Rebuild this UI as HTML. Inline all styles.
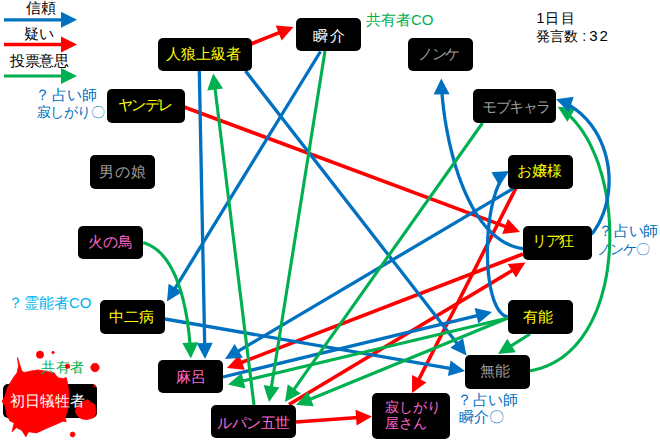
<!DOCTYPE html><html><head><meta charset="utf-8"><style>
html,body{margin:0;padding:0;background:#fff;width:660px;height:441px;overflow:hidden;position:relative;font-family:"Liberation Sans",sans-serif;}
svg{position:absolute;left:0;top:0;}
.b{position:absolute;box-sizing:border-box;background:#000;border-radius:5px;display:flex;align-items:center;justify-content:center;font-size:14.5px;white-space:nowrap;}
.l{position:absolute;font-size:14px;line-height:normal;white-space:nowrap;}
</style></head><body>
<svg width="660" height="441" viewBox="0 0 660 441"><line x1="4.0" y1="19.8" x2="63.0" y2="19.8" stroke="#0070C0" stroke-width="3.3"/><polygon points="77.0,19.8 61.0,27.8 61.0,11.8" fill="#0070C0"/>
<line x1="4.0" y1="44.5" x2="63.0" y2="44.5" stroke="#FF0000" stroke-width="3.6"/><polygon points="77.0,44.5 61.0,52.5 61.0,36.5" fill="#FF0000"/>
<line x1="4.0" y1="76.0" x2="63.0" y2="76.0" stroke="#00B050" stroke-width="3.1"/><polygon points="77.0,76.0 61.0,84.0 61.0,68.0" fill="#00B050"/>
<line x1="251.0" y1="44.0" x2="280.5" y2="32.2" stroke="#FF0000" stroke-width="3.6"/><polygon points="293.5,27.0 281.6,40.4 275.7,25.5" fill="#FF0000"/>
<line x1="184.0" y1="107.0" x2="506.9" y2="227.1" stroke="#FF0000" stroke-width="3.6"/><polygon points="520.0,232.0 502.2,233.9 507.8,218.9" fill="#FF0000"/>
<line x1="296.0" y1="422.0" x2="358.0" y2="417.5" stroke="#FF0000" stroke-width="3.6"/><polygon points="372.0,416.5 356.6,425.6 355.5,409.7" fill="#FF0000"/>
<line x1="516.0" y1="188.0" x2="418.3" y2="380.5" stroke="#FF0000" stroke-width="3.6"/><polygon points="412.0,393.0 412.1,375.1 426.4,382.4" fill="#FF0000"/>
<line x1="523.0" y1="254.0" x2="240.1" y2="363.0" stroke="#FF0000" stroke-width="3.6"/><polygon points="227.0,368.0 239.1,354.8 244.8,369.7" fill="#FF0000"/>
<line x1="289.0" y1="404.5" x2="513.5" y2="269.7" stroke="#FF0000" stroke-width="3.6"/><polygon points="525.5,262.5 515.9,277.6 507.7,263.9" fill="#FF0000"/>
<line x1="199.3" y1="71.0" x2="204.7" y2="345.0" stroke="#0070C0" stroke-width="3.3"/><polygon points="205.0,359.0 196.7,343.2 212.7,342.8" fill="#0070C0"/>
<line x1="245.5" y1="71.0" x2="457.9" y2="344.4" stroke="#0070C0" stroke-width="3.3"/><polygon points="466.5,355.5 450.4,347.8 463.0,338.0" fill="#0070C0"/>
<line x1="320.5" y1="51.5" x2="174.3" y2="289.6" stroke="#0070C0" stroke-width="3.3"/><polygon points="167.0,301.5 168.6,283.7 182.2,292.1" fill="#0070C0"/>
<line x1="165.0" y1="319.0" x2="451.2" y2="368.6" stroke="#0070C0" stroke-width="3.3"/><polygon points="465.0,371.0 447.9,376.1 450.6,360.4" fill="#0070C0"/>
<line x1="514.0" y1="188.0" x2="237.0" y2="351.9" stroke="#0070C0" stroke-width="3.3"/><polygon points="225.0,359.0 234.7,344.0 242.8,357.7" fill="#0070C0"/>
<line x1="223.0" y1="377.0" x2="478.4" y2="315.3" stroke="#0070C0" stroke-width="3.3"/><polygon points="492.0,312.0 478.3,323.5 474.6,308.0" fill="#0070C0"/>
<polyline fill="none" stroke="#0070C0" stroke-width="3.3" points="523.5,248.7 522.7,248.6 521.9,248.5 521.0,248.3 520.2,248.2 519.4,248.0 518.6,247.8 517.8,247.7 517.0,247.5 516.3,247.2 515.5,247.0 514.7,246.8 513.9,246.5 513.2,246.3 512.4,246.0 511.6,245.7 510.9,245.4 510.2,245.1 509.4,244.8 508.7,244.5 507.9,244.1 507.2,243.8 506.5,243.4 505.8,243.0 505.1,242.7 504.3,242.3 503.6,241.8 502.9,241.4 502.2,241.0 501.6,240.6 500.9,240.1 500.2,239.7 499.5,239.2 498.8,238.7 498.2,238.2 497.5,237.7 496.9,237.2 496.2,236.7 495.6,236.2 494.9,235.6 494.3,235.1 493.6,234.5 493.0,234.0 492.4,233.4 491.8,232.8 491.1,232.2 490.5,231.6 489.9,231.0 489.3,230.4 488.7,229.8 488.1,229.2 487.5,228.5 486.9,227.9 486.4,227.2 485.8,226.5 485.2,225.9 484.6,225.2 484.1,224.5 483.5,223.8 482.9,223.1 482.4,222.4 481.8,221.7 481.3,220.9 480.8,220.2 480.2,219.5 479.7,218.7 479.2,218.0 478.6,217.2 478.1,216.4 477.6,215.6 477.1,214.9 476.6,214.1 476.1,213.3 475.6,212.5 475.1,211.7 474.6,210.9 474.1,210.1 473.6,209.2 473.2,208.4 472.7,207.6 472.2,206.7 471.8,205.9 471.3,205.0 470.8,204.2 470.4,203.3 469.9,202.4 469.5,201.6 469.1,200.7 468.6,199.8 468.2,198.9 467.8,198.0 467.3,197.1 466.9,196.2 466.5,195.3 466.1,194.4 465.7,193.5 465.3,192.6 464.9,191.7 464.5,190.7 464.1,189.8 463.7,188.9 463.3,188.0 462.9,187.0 462.5,186.1 462.2,185.1 461.8,184.2 461.4,183.2 461.1,182.3 460.7,181.3 460.3,180.4 460.0,179.4 459.6,178.4 459.3,177.5 458.9,176.5 458.6,175.5 458.3,174.5 457.9,173.6 457.6,172.6 457.3,171.6 457.0,170.6 456.7,169.6 456.3,168.6 456.0,167.7 455.7,166.7 455.4,165.7 455.1,164.7 454.8,163.7 454.5,162.7 454.3,161.7 454.0,160.7 453.7,159.7 453.4,158.7 453.1,157.7 452.9,156.7 452.6,155.7 452.3,154.7 452.1,153.7 451.8,152.7 451.6,151.7 451.3,150.7 451.1,149.7 450.8,148.7 450.6,147.7 450.4,146.7 450.1,145.7 449.9,144.7 449.7,143.7 449.4,142.7 449.2,141.7 449.0,140.7 448.8,139.7 448.6,138.8 448.4,137.8 448.2,136.8 448.0,135.8 447.8,134.8 447.6,133.8 447.4,132.8 447.2,131.9 447.0,130.9 446.8,129.9 446.7,128.9 446.5,127.9 446.3,127.0 446.1,126.0 446.0,125.0 445.8,124.1 445.7,123.1 445.5,122.2 445.3,121.2 445.2,120.3 445.0,119.3 444.9,118.4 444.8,117.4 444.6,116.5 444.5,115.5 444.4,114.6 444.2,113.7 444.1,112.8 444.0,111.8 443.9,110.9 443.7,110.0 443.6,109.1 443.5,108.2 443.4,107.3 443.3,106.4 443.2,105.5 443.1,104.6 443.0,103.7 442.9,102.9 442.8,102.0 442.7,101.1 442.6,100.3 442.5,99.4 442.5,98.6 442.4,97.7 442.3,96.9 442.2,96.0 442.2,95.2 442.1,94.4 442.0,93.6"/><polygon points="441.3,78.4 449.6,94.3 433.6,94.5" fill="#0070C0"/>
<polyline fill="none" stroke="#0070C0" stroke-width="3.3" points="508.0,317.0 507.6,316.9 507.3,316.8 506.9,316.7 506.5,316.6 506.2,316.5 505.8,316.3 505.4,316.2 505.1,316.0 504.7,315.8 504.4,315.6 504.1,315.4 503.7,315.2 503.4,315.0 503.1,314.8 502.7,314.5 502.4,314.2 502.1,314.0 501.8,313.7 501.5,313.4 501.2,313.1 500.9,312.7 500.6,312.4 500.3,312.1 500.0,311.7 499.7,311.4 499.4,311.0 499.1,310.6 498.8,310.2 498.5,309.8 498.3,309.4 498.0,308.9 497.7,308.5 497.5,308.1 497.2,307.6 497.0,307.1 496.7,306.7 496.5,306.2 496.2,305.7 496.0,305.2 495.7,304.7 495.5,304.1 495.3,303.6 495.0,303.1 494.8,302.5 494.6,302.0 494.4,301.4 494.2,300.8 493.9,300.3 493.7,299.7 493.5,299.1 493.3,298.5 493.1,297.8 492.9,297.2 492.8,296.6 492.6,296.0 492.4,295.3 492.2,294.7 492.0,294.0 491.9,293.4 491.7,292.7 491.5,292.0 491.4,291.3 491.2,290.6 491.0,289.9 490.9,289.2 490.7,288.5 490.6,287.8 490.4,287.1 490.3,286.4 490.2,285.6 490.0,284.9 489.9,284.1 489.8,283.4 489.7,282.6 489.5,281.9 489.4,281.1 489.3,280.3 489.2,279.6 489.1,278.8 489.0,278.0 488.9,277.2 488.8,276.4 488.7,275.6 488.6,274.8 488.5,274.0 488.4,273.2 488.4,272.4 488.3,271.6 488.2,270.7 488.1,269.9 488.1,269.1 488.0,268.3 488.0,267.4 487.9,266.6 487.8,265.7 487.8,264.9 487.7,264.1 487.7,263.2 487.7,262.4 487.6,261.5 487.6,260.6 487.6,259.8 487.5,258.9 487.5,258.1 487.5,257.2 487.5,256.3 487.4,255.5 487.4,254.6 487.4,253.7 487.4,252.9 487.4,252.0 487.4,251.1 487.4,250.2 487.4,249.4 487.4,248.5 487.5,247.6 487.5,246.7 487.5,245.8 487.5,245.0 487.5,244.1 487.6,243.2 487.6,242.3 487.6,241.4 487.7,240.6 487.7,239.7 487.8,238.8 487.8,237.9 487.9,237.1 487.9,236.2 488.0,235.3 488.0,234.4 488.1,233.6 488.2,232.7 488.2,231.8 488.3,230.9 488.4,230.1 488.5,229.2 488.6,228.3 488.6,227.5 488.7,226.6 488.8,225.8 488.9,224.9 489.0,224.1 489.1,223.2 489.2,222.4 489.3,221.5 489.4,220.7 489.5,219.8 489.7,219.0 489.8,218.2 489.9,217.3 490.0,216.5 490.2,215.7 490.3,214.9 490.4,214.0 490.6,213.2 490.7,212.4 490.8,211.6 491.0,210.8 491.1,210.0 491.3,209.2 491.5,208.4 491.6,207.6 491.8,206.9 491.9,206.1 492.1,205.3 492.3,204.6 492.5,203.8 492.6,203.0 492.8,202.3 493.0,201.6 493.2,200.8 493.4,200.1 493.6,199.4 493.7,198.6 493.9,197.9 494.1,197.2 494.3,196.5 494.6,195.8 494.8,195.1 495.0,194.4 495.2,193.8 495.4,193.1 495.6,192.4 495.9,191.8 496.1,191.1 496.3,190.5 496.5,189.9 496.8,189.2 497.0,188.6 497.3,188.0 497.5,187.4 497.7,186.8 498.0,186.2 498.2,185.6 498.5,185.1 498.8,184.5 499.0,183.9 499.3,183.4 499.6,182.9"/><polygon points="509.2,171.1 499.5,186.1 491.4,172.3" fill="#0070C0"/>
<line x1="325.0" y1="51.0" x2="271.2" y2="388.2" stroke="#00B050" stroke-width="3.1"/><polygon points="269.0,402.0 263.6,384.9 279.4,387.5" fill="#00B050"/>
<line x1="254.0" y1="405.0" x2="214.9" y2="87.5" stroke="#00B050" stroke-width="3.1"/><polygon points="213.2,73.6 223.1,88.5 207.2,90.5" fill="#00B050"/>
<polyline fill="none" stroke="#00B050" stroke-width="3.1" points="143.2,242.7 143.7,242.8 144.2,243.0 144.7,243.1 145.2,243.3 145.7,243.5 146.2,243.6 146.6,243.8 147.1,244.0 147.6,244.2 148.1,244.4 148.5,244.6 149.0,244.8 149.4,245.1 149.9,245.3 150.4,245.5 150.8,245.8 151.3,246.0 151.7,246.3 152.1,246.5 152.6,246.8 153.0,247.0 153.4,247.3 153.9,247.6 154.3,247.9 154.7,248.2 155.1,248.5 155.5,248.8 156.0,249.1 156.4,249.4 156.8,249.7 157.2,250.1 157.6,250.4 158.0,250.7 158.4,251.1 158.8,251.4 159.1,251.8 159.5,252.1 159.9,252.5 160.3,252.9 160.7,253.2 161.0,253.6 161.4,254.0 161.8,254.4 162.1,254.8 162.5,255.2 162.8,255.6 163.2,256.0 163.5,256.4 163.9,256.8 164.2,257.3 164.6,257.7 164.9,258.1 165.3,258.5 165.6,259.0 165.9,259.4 166.2,259.9 166.6,260.3 166.9,260.8 167.2,261.2 167.5,261.7 167.8,262.2 168.2,262.6 168.5,263.1 168.8,263.6 169.1,264.1 169.4,264.6 169.7,265.1 170.0,265.6 170.3,266.1 170.5,266.6 170.8,267.1 171.1,267.6 171.4,268.1 171.7,268.6 172.0,269.1 172.2,269.6 172.5,270.2 172.8,270.7 173.0,271.2 173.3,271.8 173.6,272.3 173.8,272.8 174.1,273.4 174.3,273.9 174.6,274.5 174.8,275.0 175.1,275.6 175.3,276.2 175.6,276.7 175.8,277.3 176.0,277.8 176.3,278.4 176.5,279.0 176.7,279.5 176.9,280.1 177.2,280.7 177.4,281.3 177.6,281.9 177.8,282.4 178.0,283.0 178.3,283.6 178.5,284.2 178.7,284.8 178.9,285.4 179.1,286.0 179.3,286.6 179.5,287.2 179.7,287.8 179.9,288.4 180.1,289.0 180.3,289.6 180.5,290.2 180.6,290.8 180.8,291.4 181.0,292.0 181.2,292.6 181.4,293.2 181.5,293.9 181.7,294.5 181.9,295.1 182.1,295.7 182.2,296.3 182.4,296.9 182.5,297.6 182.7,298.2 182.9,298.8 183.0,299.4 183.2,300.1 183.3,300.7 183.5,301.3 183.6,301.9 183.8,302.5 183.9,303.2 184.1,303.8 184.2,304.4 184.4,305.0 184.5,305.7 184.6,306.3 184.8,306.9 184.9,307.6 185.0,308.2 185.2,308.8 185.3,309.4 185.4,310.1 185.5,310.7 185.6,311.3 185.8,311.9 185.9,312.6 186.0,313.2 186.1,313.8 186.2,314.4 186.3,315.1 186.5,315.7 186.6,316.3 186.7,316.9 186.8,317.6 186.9,318.2 187.0,318.8 187.1,319.4 187.2,320.0 187.3,320.6 187.4,321.3 187.5,321.9 187.5,322.5 187.6,323.1 187.7,323.7 187.8,324.3 187.9,324.9 188.0,325.5 188.1,326.1 188.1,326.7 188.2,327.3 188.3,327.9 188.4,328.5 188.5,329.1 188.5,329.7 188.6,330.3 188.7,330.9 188.7,331.5 188.8,332.1 188.9,332.7 189.0,333.3 189.0,333.9 189.1,334.4 189.1,335.0 189.2,335.6 189.3,336.2 189.3,336.7 189.4,337.3 189.4,337.9 189.5,338.4 189.5,339.0 189.6,339.6 189.6,340.1 189.7,340.7 189.7,341.2 189.8,341.8 189.8,342.3 189.9,342.9 189.9,343.4"/><polygon points="190.8,358.6 182.3,342.9 198.3,342.3" fill="#00B050"/>
<line x1="482.5" y1="123.0" x2="293.1" y2="390.6" stroke="#00B050" stroke-width="3.1"/><polygon points="285.0,402.0 287.7,384.3 300.8,393.6" fill="#00B050"/>
<line x1="508.0" y1="318.0" x2="241.6" y2="381.3" stroke="#00B050" stroke-width="3.1"/><polygon points="228.0,384.5 241.7,373.0 245.4,388.6" fill="#00B050"/>
<line x1="508.0" y1="318.0" x2="309.0" y2="399.7" stroke="#00B050" stroke-width="3.1"/><polygon points="296.0,405.0 307.8,391.5 313.8,406.3" fill="#00B050"/>
<line x1="530.0" y1="334.0" x2="509.9" y2="346.6" stroke="#00B050" stroke-width="3.1"/><polygon points="498.0,354.0 507.3,338.7 515.8,352.3" fill="#00B050"/>
<polyline fill="none" stroke="#00B050" stroke-width="3.1" points="529.5,370.8 531.0,370.6 532.4,370.3 533.8,370.0 535.2,369.7 536.6,369.3 538.0,369.0 539.4,368.6 540.7,368.2 542.1,367.7 543.4,367.3 544.7,366.8 546.0,366.3 547.3,365.8 548.6,365.2 549.8,364.6 551.1,364.0 552.3,363.4 553.5,362.8 554.7,362.1 555.9,361.5 557.1,360.8 558.3,360.0 559.4,359.3 560.5,358.6 561.7,357.8 562.8,357.0 563.9,356.2 564.9,355.3 566.0,354.5 567.1,353.6 568.1,352.7 569.1,351.8 570.1,350.9 571.1,349.9 572.1,349.0 573.1,348.0 574.1,347.0 575.0,346.0 575.9,344.9 576.8,343.9 577.8,342.8 578.6,341.7 579.5,340.6 580.4,339.5 581.2,338.4 582.1,337.3 582.9,336.1 583.7,334.9 584.5,333.7 585.3,332.5 586.1,331.3 586.9,330.1 587.6,328.8 588.3,327.6 589.1,326.3 589.8,325.0 590.5,323.7 591.2,322.4 591.8,321.1 592.5,319.8 593.1,318.4 593.8,317.1 594.4,315.7 595.0,314.3 595.6,313.0 596.2,311.6 596.8,310.1 597.3,308.7 597.9,307.3 598.4,305.8 598.9,304.4 599.4,302.9 599.9,301.5 600.4,300.0 600.9,298.5 601.3,297.0 601.8,295.5 602.2,294.0 602.6,292.5 603.0,290.9 603.4,289.4 603.8,287.9 604.2,286.3 604.6,284.8 604.9,283.2 605.2,281.6 605.6,280.0 605.9,278.5 606.2,276.9 606.5,275.3 606.7,273.7 607.0,272.1 607.3,270.5 607.5,268.9 607.7,267.2 607.9,265.6 608.1,264.0 608.3,262.4 608.5,260.7 608.7,259.1 608.8,257.5 609.0,255.8 609.1,254.2 609.2,252.5 609.4,250.9 609.5,249.2 609.5,247.6 609.6,245.9 609.7,244.3 609.7,242.6 609.8,240.9 609.8,239.3 609.8,237.6 609.8,236.0 609.8,234.3 609.8,232.6 609.8,231.0 609.7,229.3 609.7,227.7 609.6,226.0 609.5,224.3 609.5,222.7 609.4,221.0 609.2,219.4 609.1,217.7 609.0,216.1 608.9,214.4 608.7,212.8 608.5,211.2 608.4,209.5 608.2,207.9 608.0,206.3 607.8,204.6 607.6,203.0 607.3,201.4 607.1,199.8 606.8,198.2 606.6,196.6 606.3,195.0 606.0,193.4 605.7,191.8 605.4,190.2 605.1,188.7 604.8,187.1 604.4,185.5 604.1,184.0 603.7,182.4 603.3,180.9 603.0,179.4 602.6,177.8 602.2,176.3 601.8,174.8 601.3,173.3 600.9,171.8 600.4,170.3 600.0,168.9 599.5,167.4 599.1,165.9 598.6,164.5 598.1,163.1 597.6,161.6 597.0,160.2 596.5,158.8 596.0,157.4 595.4,156.0 594.9,154.7 594.3,153.3 593.7,151.9 593.1,150.6 592.5,149.3 591.9,148.0 591.3,146.7 590.7,145.4 590.0,144.1 589.4,142.8 588.7,141.6 588.0,140.3 587.4,139.1 586.7,137.9 586.0,136.7 585.3,135.5 584.5,134.4 583.8,133.2 583.1,132.1 582.3,131.0 581.6,129.9 580.8,128.8 580.0,127.7 579.2,126.6 578.4,125.6 577.6,124.6 576.8,123.6 576.0,122.6 575.1,121.6 574.3,120.6 573.4,119.7 572.6,118.8 571.7,117.9 570.8,117.0 569.9,116.1"/><polygon points="557.7,106.8 575.5,108.0 567.4,121.8" fill="#00B050"/>
<polyline fill="none" stroke="#0070C0" stroke-width="3.3" points="591.6,234.3 592.0,233.7 592.5,233.2 592.9,232.6 593.3,232.0 593.8,231.4 594.2,230.8 594.6,230.2 595.0,229.6 595.4,229.0 595.8,228.4 596.2,227.8 596.6,227.2 596.9,226.6 597.3,225.9 597.7,225.3 598.0,224.7 598.4,224.1 598.7,223.4 599.1,222.8 599.4,222.2 599.7,221.5 600.0,220.9 600.4,220.2 600.7,219.6 601.0,218.9 601.3,218.3 601.6,217.6 601.9,216.9 602.1,216.3 602.4,215.6 602.7,214.9 603.0,214.2 603.2,213.6 603.5,212.9 603.7,212.2 604.0,211.5 604.2,210.8 604.4,210.1 604.7,209.5 604.9,208.8 605.1,208.1 605.3,207.4 605.5,206.7 605.7,206.0 605.9,205.3 606.1,204.6 606.3,203.9 606.4,203.2 606.6,202.4 606.8,201.7 606.9,201.0 607.1,200.3 607.2,199.6 607.4,198.9 607.5,198.1 607.6,197.4 607.8,196.7 607.9,196.0 608.0,195.3 608.1,194.5 608.2,193.8 608.3,193.1 608.4,192.4 608.5,191.6 608.5,190.9 608.6,190.2 608.7,189.4 608.8,188.7 608.8,188.0 608.9,187.2 608.9,186.5 608.9,185.8 609.0,185.0 609.0,184.3 609.0,183.6 609.1,182.8 609.1,182.1 609.1,181.3 609.1,180.6 609.1,179.9 609.1,179.1 609.0,178.4 609.0,177.7 609.0,176.9 609.0,176.2 608.9,175.4 608.9,174.7 608.8,174.0 608.8,173.2 608.7,172.5 608.7,171.8 608.6,171.0 608.5,170.3 608.4,169.6 608.4,168.8 608.3,168.1 608.2,167.4 608.1,166.6 608.0,165.9 607.8,165.2 607.7,164.4 607.6,163.7 607.5,163.0 607.3,162.3 607.2,161.5 607.0,160.8 606.9,160.1 606.7,159.4 606.6,158.7 606.4,157.9 606.2,157.2 606.1,156.5 605.9,155.8 605.7,155.1 605.5,154.4 605.3,153.7 605.1,153.0 604.9,152.3 604.7,151.6 604.4,150.9 604.2,150.2 604.0,149.5 603.7,148.8 603.5,148.1 603.2,147.4 603.0,146.7 602.7,146.0 602.5,145.3 602.2,144.7 601.9,144.0 601.6,143.3 601.4,142.6 601.1,142.0 600.8,141.3 600.5,140.6 600.2,140.0 599.8,139.3 599.5,138.6 599.2,138.0 598.9,137.3 598.5,136.7 598.2,136.0 597.9,135.4 597.5,134.8 597.2,134.1 596.8,133.5 596.4,132.9 596.1,132.2 595.7,131.6 595.3,131.0 594.9,130.4 594.5,129.8 594.1,129.2 593.7,128.6 593.3,128.0 592.9,127.4 592.5,126.8 592.1,126.2 591.6,125.6 591.2,125.0 590.8,124.4 590.3,123.9 589.9,123.3 589.4,122.7 589.0,122.2 588.5,121.6 588.0,121.0 587.6,120.5 587.1,120.0 586.6,119.4 586.1,118.9 585.6,118.3 585.1,117.8 584.6,117.3 584.1,116.8 583.6,116.3 583.1,115.8 582.5,115.3 582.0,114.8 581.5,114.3 580.9,113.8 580.4,113.3 579.8,112.8 579.3,112.4 578.7,111.9 578.1,111.4 577.6,111.0 577.0,110.5 576.4,110.1 575.8,109.6 575.2,109.2 574.6,108.8 574.0,108.4 573.4,107.9 572.8,107.5 572.2,107.1 571.6,106.7 570.9,106.3 570.3,105.9 569.7,105.6"/><polygon points="556.0,99.3 573.7,96.8 568.6,112.0" fill="#0070C0"/></svg>
<div class="b" style="left:158px;top:38px;width:94px;height:33px;color:#FFFF00;"><span style="position:relative;left:-2.0px;top:0.0px;letter-spacing:0.0px">人狼上級者</span></div>
<div class="b" style="left:296px;top:18px;width:65px;height:33px;color:#FFFFFF;"><span style="position:relative;left:1.0px;top:2.0px;letter-spacing:2.0px">瞬介</span></div>
<div class="b" style="left:408px;top:38px;width:65px;height:33px;color:#9C9C9C;"><span style="position:relative;left:-2.0px;top:0.0px;letter-spacing:-1.2px">ノンケ</span></div>
<div class="b" style="left:107px;top:89px;width:78px;height:34px;color:#FFFF00;"><span style="position:relative;left:-1.2px;top:-0.5px;letter-spacing:-1.5px">ヤンデレ</span></div>
<div class="b" style="left:473px;top:89px;width:83px;height:34px;color:#9C9C9C;"><span style="position:relative;left:1.7px;top:1.0px;letter-spacing:-1.5px">モブキャラ</span></div>
<div class="b" style="left:90px;top:155px;width:65px;height:34px;color:#9C9C9C;"><span style="position:relative;left:0.0px;top:0.0px;letter-spacing:1.0px">男の娘</span></div>
<div class="b" style="left:508px;top:155px;width:65px;height:34px;color:#FFFF00;"><span style="position:relative;left:-1.0px;top:-0.5px;letter-spacing:0.0px">お嬢様</span></div>
<div class="b" style="left:78px;top:226px;width:65px;height:33px;color:#FF66CC;"><span style="position:relative;left:0.0px;top:0.0px;letter-spacing:0.0px">火の鳥</span></div>
<div class="b" style="left:523px;top:226px;width:69px;height:34px;color:#FFFF00;"><span style="position:relative;left:-4.8px;top:-1.5px;letter-spacing:-1.4px">リア狂</span></div>
<div class="b" style="left:100px;top:300px;width:65px;height:34px;color:#FFFF00;"><span style="position:relative;left:-1.0px;top:0.5px;letter-spacing:0.0px">中二病</span></div>
<div class="b" style="left:508px;top:300px;width:65px;height:34px;color:#FFFF00;"><span style="position:relative;left:-2.5px;top:0.5px;letter-spacing:0.0px">有能</span></div>
<div class="b" style="left:158px;top:360px;width:65px;height:33px;color:#FF66CC;"><span style="position:relative;left:0.5px;top:0.5px;letter-spacing:0.0px">麻呂</span></div>
<div class="b" style="left:465px;top:355px;width:65px;height:34px;color:#9C9C9C;"><span style="position:relative;left:-2.5px;top:-0.5px;letter-spacing:0.0px">無能</span></div>
<div class="b" style="left:211px;top:405px;width:85px;height:33px;color:#FF66CC;"><span style="position:relative;left:0.2px;top:1.5px;letter-spacing:-0.5px">ルパン五世</span></div>
<div class="b" style="left:372px;top:393px;width:78px;height:46px;color:#FF66CC;text-align:left;padding-left:13px;line-height:15.6px;justify-content:flex-start;font-size:13.6px;"><span style="position:relative;left:0.0px;top:0.0px;letter-spacing:0.0px">寂しがり<br>屋さん</span></div>
<div class="b" style="left:3px;top:384px;width:94px;height:34px;"></div>
<svg width="660" height="441" viewBox="0 0 660 441"><g fill="#FF0000" stroke="#FF0000" stroke-width="0.8" stroke-linejoin="round">
<polygon points="17.5,357.5 19.5,364 22,371.5 25,372.5 30,371.2 37.5,370 46.2,371.2 54.4,373 55.5,375 58.7,378 63.7,378.5 66.2,377.5 67.5,382.5 68.5,390 69.2,395.2 69,400 68.2,405.4 67.5,410 65.1,417.7 66.2,421.7 63,421.2 54.5,425 46,428.6 36.5,432.9 28.6,431.8 25.9,436.8 21.7,430.2 16.4,427.6 12.1,431.8 14.2,422.8 10,421 6.9,415 5.2,406.4 2,401.2 5.2,396 6.9,389 9.5,384 13.8,377 17,373 18.5,366"/>
<polygon points="83.5,401.3 87.6,399.8 90.6,402.3 94.7,404.4 95.7,407.4 96.2,412.6 93.7,417.7 86.5,419.7 81.4,418.7 77.3,415.6 75.3,411.5 76.3,407.4 80.4,403.4"/>
<circle cx="40" cy="354.7" r="3.6"/>
<circle cx="53.1" cy="352.5" r="1.2"/>
<circle cx="95" cy="367.5" r="4.2"/>
<circle cx="72.6" cy="434.5" r="2.4"/>
<circle cx="94.7" cy="386" r="1"/>
</g></svg>
<div class="l" style="left:10px;top:392px;color:#fff;font-size:15px">初日犠牲者</div>
<div class="l" style="left:41.4px;top:358.5px;color:#00B050;font-size:14px;letter-spacing:0.3px">共有者</div>
<svg width="660" height="441" viewBox="0 0 660 441"><circle cx="67.5" cy="366.2" r="2.5" fill="#FF0000"/></svg>
<div class="l" style="left:25.5px;top:-1.5px;color:#000;font-size:15px">信頼</div>
<div class="l" style="left:23.5px;top:24.5px;color:#000;font-size:15px">疑い</div>
<div class="l" style="left:10.2px;top:52.0px;color:#000;font-size:15px;letter-spacing:-0.5px">投票意思</div>
<div class="l" style="left:35.0px;top:85.5px;color:#0070C0;font-size:15px"><span style="margin-right:2px">？</span>占い師</div>
<div class="l" style="left:36.5px;top:104.0px;color:#0070C0;font-size:14px;letter-spacing:-0.5px">寂しがり〇</div>
<div class="l" style="left:366.0px;top:11.0px;color:#00B050;font-size:15px">共有者CO</div>
<div class="l" style="left:536.6px;top:10.4px;color:#000;font-size:14px">1<span style="margin-left:1px">日</span><span style="margin-left:2px">目</span></div>
<div class="l" style="left:536.3px;top:27.0px;color:#000;font-size:14px">発言数<span style="margin:0 3px 0 4px">:</span><span style="font-size:15px;letter-spacing:2px">32</span></div>
<div class="l" style="left:598.0px;top:222.0px;color:#0070C0;font-size:15px;letter-spacing:-0.7px"><span style="margin-right:2px">？</span>占い師</div>
<div class="l" style="left:597.0px;top:241.0px;color:#0070C0;font-size:14px;letter-spacing:-1px">ノンケ〇</div>
<div class="l" style="left:8.0px;top:293.5px;color:#00B0F0;font-size:15px"><span style="margin-right:1px">？</span>霊能者CO</div>
<div class="l" style="left:456.5px;top:391.0px;color:#0070C0;font-size:15px;letter-spacing:-0.3px"><span style="margin-right:2px">？</span>占い師</div>
<div class="l" style="left:458.5px;top:407.5px;color:#0070C0;font-size:15px">瞬介〇</div>
</body></html>
